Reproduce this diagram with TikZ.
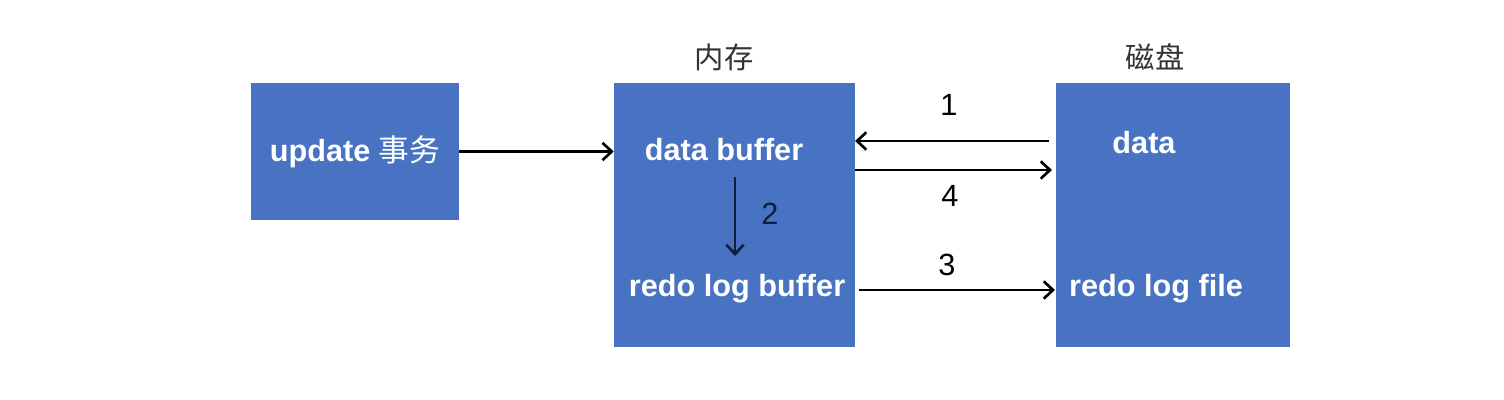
\documentclass[tikz,border=0pt]{standalone}
\usepackage{fontspec}
\setmainfont{Liberation Sans}
\newfontfamily\cjk{Noto Sans CJK SC}
\usetikzlibrary{arrows.meta}
\definecolor{boxblue}{HTML}{4773C2}
\definecolor{darknavy}{HTML}{0F1E3C}
\definecolor{labgray}{HTML}{333333}
\begin{document}
\begin{tikzpicture}[x=0.75pt,y=-0.75pt,
  box/.style={fill=boxblue, draw=none, inner sep=0pt},
  btext/.style={text=white, font=\fontsize{23}{26}\selectfont\bfseries, inner sep=0pt},
  num/.style={text=black, font=\fontsize{23}{25}\selectfont, inner sep=0pt},
  title/.style={text=labgray, font=\cjk\fontsize{22}{24}\selectfont, inner sep=0pt},
  arr/.style={line width=2pt, -{Straight Barb[length=7pt,width=13pt,line width=2pt]}}]
\useasboundingbox[fill=white] (0,0) rectangle (1504,400);

\node[box, minimum width=156pt, minimum height=102.75pt] (upd) at (355,151.5) {};
\node[box, minimum width=180.75pt, minimum height=198pt] (mem) at (734.5,215) {};
\node[box, minimum width=175.5pt, minimum height=198pt] (disk) at (1173,215) {};

\node[title] (memt) at (724,57) {内存};
\node[title] (diskt) at (1155,57) {磁盘};

\node[btext] (updt) at (355,152) {update {\cjk\mdseries 事务}};
\node[btext] (dbuf) at (724,150) {data buffer};
\node[btext] (rbuf) at (737,289) {redo log buffer};
\node[btext] (dat) at (1144,143) {data};
\node[btext] (rfile) at (1156,289) {redo log file};

\coordinate (a1s) at (1049,141);
\coordinate (a1e) at (855,141);
\coordinate (a4s) at (855,170);
\coordinate (a4e) at (1052,170);
\coordinate (a3s) at (859,290);
\coordinate (a3e) at (1055,290);
\coordinate (a2s) at (735,177);
\coordinate (a2e) at (735,256);

\draw[arr] (upd.east) -- (upd.east -| mem.west);
\draw[arr] (a1s) -- (a1e);
\draw[arr] (a4s) -- (a4e);
\draw[arr] (a3s) -- (a3e);
\draw[arr, draw=darknavy] (a2s) -- (a2e);

\node[num] (n1) at (949,105) {1};
\node[num] (n4) at (950,196) {4};
\node[num] (n3) at (947,265) {3};
\node[num, text=darknavy] (n2) at (770,214) {2};
\end{tikzpicture}
\end{document}
